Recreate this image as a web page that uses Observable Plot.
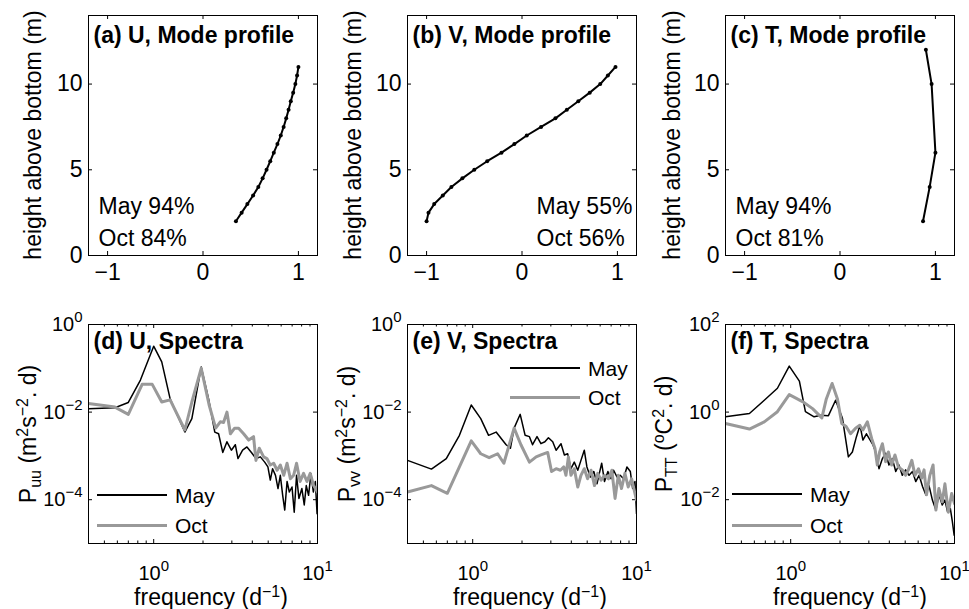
<!DOCTYPE html>
<html><head><meta charset="utf-8">
<script src="https://cdn.jsdelivr.net/npm/d3@7"></script>
<script src="https://cdn.jsdelivr.net/npm/@observablehq/plot@0.6"></script>
<style>
html,body{margin:0;padding:0;background:#fff;}
#chart{position:relative;width:969px;height:609px;overflow:hidden;font-family:"Liberation Sans",Arial,Helvetica,sans-serif;color:#000;background:#fff;}
.lbl{position:absolute;white-space:nowrap;line-height:1;font-size:23px;}
.sub{position:relative;top:0.32em;font-size:16px;}
.sup{position:relative;top:-0.5em;font-size:16px;}
</style></head><body><div id="chart"></div><script>
// ---------- data ----------
const profXTicks = [-1, 0, 1];
const profXLabels = ["−1", "0", "1"];
const profYTicks = [0, 5, 10];
const profYLabels = ["0", "5", "10"];

const specXTicks = [1, 10];
const specXLabels = ["10^0", "10^1"];
const specXMinor = [0.5, 0.6, 0.7, 0.8, 0.9, 2, 3, 4, 5, 6, 7, 8, 9];
const uvYTicks = [1e-4, 1e-2, 1];
const uvYLabels = ["10^−4", "10^−2", "10^0"];
const tYTicks = [1e-2, 1, 100];
const tYLabels = ["10^−2", "10^0", "10^2"];

const uHeight = [2, 2.5, 3, 3.5, 4, 4.5, 5, 5.5, 6, 6.5, 7, 7.5, 8, 8.5, 9, 9.5, 10, 10.5, 11];
const uMode = [0.345, 0.405, 0.465, 0.525, 0.58, 0.625, 0.666, 0.705, 0.742, 0.78, 0.815, 0.845, 0.872, 0.897, 0.92, 0.945, 0.968, 0.986, 1.0];
const vHeight = [2, 2.5, 3, 3.5, 4, 4.5, 5, 5.5, 6, 6.5, 7, 7.5, 8, 8.5, 9, 9.5, 10, 10.5, 11];
const vMode = [-1.0, -0.98, -0.92, -0.83, -0.74, -0.625, -0.5, -0.365, -0.215, -0.08, 0.05, 0.2, 0.35, 0.47, 0.59, 0.71, 0.82, 0.9, 0.98];
const tHeight = [2, 4, 6, 10, 12];
const tMode = [0.87, 0.94, 1.0, 0.96, 0.90];

const uFreqMay = [0.40,0.58,0.70,0.83,1.00,1.12,1.26,1.55,1.71,1.95,2.17,2.36,2.49,2.64,2.80,2.98,3.15,3.27,3.49,3.71,3.95,4.21,4.48,4.76,4.98,5.15,5.32,5.54,5.74,5.93,6.13,6.31,6.52,6.73,6.99,7.21,7.45,7.70,8.03,8.30,8.54,8.82,9.12,9.43,9.70,9.94];
const uPowMay = [1.2e-2,1.26e-2,1.66e-2,5.4e-2,3.2e-1,1.4e-1,2.0e-2,3.5e-3,7.1e-3,1.07e-1,1.9e-2,3.5e-3,3.2e-3,1.2e-3,2.1e-3,1.35e-3,1.8e-3,8.7e-4,1.35e-3,1.6e-3,1.2e-3,8.7e-4,9.5e-4,7.2e-4,5.6e-4,2.8e-4,5.1e-4,3.6e-4,1.8e-4,3.6e-4,1.26e-4,5.8e-5,2.6e-4,1.5e-4,1.95e-4,5.2e-5,3.6e-4,1.07e-4,1.8e-4,7.6e-5,2.1e-4,1.26e-4,3.9e-4,1.5e-4,2.6e-4,4.8e-5];
const uFreqOct = [0.40,0.58,0.70,0.85,0.98,1.12,1.26,1.55,1.71,1.95,2.18,2.39,2.55,2.67,2.80,2.94,3.12,3.30,3.54,3.80,4.07,4.21,4.41,4.69,4.91,5.15,5.40,5.67,5.93,6.22,6.52,6.83,7.15,7.45,7.83,8.22,8.62,9.03,9.47,10.0];
const uPowOct = [1.58e-2,1.3e-2,8.9e-3,4.3e-2,4.3e-2,1.7e-2,1.9e-2,3.9e-3,1.7e-2,1.0e-1,1.45e-2,4.3e-3,6.0e-3,5.8e-3,1.0e-2,3.2e-3,4.3e-3,4.3e-3,3.2e-3,2.3e-3,2.75e-3,7.9e-4,1.5e-3,9.5e-4,8.7e-4,6.2e-4,6.8e-4,4.7e-4,6.2e-4,3.6e-4,6.8e-4,3.0e-4,3.6e-4,6.8e-4,2.6e-4,4.0e-4,2.6e-4,4.0e-4,2.1e-4,1.5e-4];

const vFreqMay = [0.40,0.56,0.69,0.83,0.98,1.12,1.25,1.39,1.60,1.70,1.79,1.95,2.09,2.22,2.32,2.47,2.61,2.76,2.90,3.08,3.23,3.46,3.63,3.80,3.98,4.17,4.38,4.58,4.80,4.98,5.23,5.49,5.74,5.93,6.13,6.38,6.69,6.99,7.25,7.60,7.95,8.34,8.74,9.17,9.47,9.79,10.0];
const vPowMay = [7.9e-4,5.0e-4,8.7e-4,2.95e-3,1.45e-2,7.1e-3,2.95e-3,3.5e-3,1.8e-3,1.5e-3,4.3e-3,8.9e-3,2.95e-3,2.75e-3,1.8e-3,2.75e-3,1.9e-3,2.1e-3,2.6e-3,2.1e-3,1.35e-3,1.9e-3,1.05e-3,1.12e-3,5.1e-4,7.2e-4,4.7e-4,7.9e-4,1.35e-3,5.6e-4,3.3e-4,4.4e-4,2.3e-4,4.0e-4,6.8e-4,2.6e-4,4.4e-4,3.0e-4,4.7e-4,3.3e-4,3.6e-4,3.0e-4,5.6e-4,4.4e-4,1.8e-4,2.6e-4,4.8e-5];
const vFreqOct = [0.40,0.56,0.70,0.98,1.12,1.26,1.42,1.55,1.79,1.97,2.22,2.44,2.61,2.87,3.03,3.23,3.43,3.60,3.71,3.84,3.98,4.17,4.38,4.58,4.80,5.03,5.28,5.54,5.80,6.08,6.38,6.75,7.07,7.40,7.74,8.10,8.50,8.90,9.34,10.0];
const vPowOct = [1.5e-4,2.1e-4,1.4e-4,2.2e-3,1.12e-3,9.1e-4,1.12e-3,6.8e-4,4.3e-3,1.8e-3,7.2e-4,9.5e-4,1.05e-3,1.2e-3,4.4e-4,5.1e-4,4.7e-4,5.6e-4,3.6e-4,9.5e-4,3.6e-4,5.1e-4,1.95e-4,3.6e-4,5.1e-4,3.0e-4,4.7e-4,2.1e-4,4.0e-4,2.8e-4,3.6e-4,3.0e-4,4.7e-4,1.07e-4,3.6e-4,1.8e-4,4.0e-4,1.95e-4,3.0e-4,9.8e-5];

const tFreqMay = [0.40,0.56,0.69,0.83,0.98,1.13,1.23,1.39,1.53,1.70,1.88,2.07,2.25,2.38,2.52,2.65,2.76,2.90,3.01,3.18,3.30,3.46,3.63,3.80,3.98,4.17,4.38,4.58,4.80,5.03,5.28,5.54,5.80,6.08,6.38,6.69,6.99,7.33,7.70,8.03,8.42,8.74,9.08,9.43,9.70,9.95];
const tPowMay = [0.78,0.93,1.86,3.5,11.2,5.1,1.02,0.78,0.85,0.83,1.86,0.72,0.095,0.123,0.275,0.50,0.23,0.32,0.25,0.178,0.123,0.051,0.087,0.115,0.062,0.087,0.044,0.062,0.036,0.048,0.036,0.044,0.026,0.036,0.020,0.0129,0.021,0.0098,0.0058,0.0129,0.0076,0.0098,0.0052,0.0063,0.0032,0.00155];
const tFreqOct = [0.40,0.56,0.69,0.83,0.98,1.18,1.36,1.55,1.65,1.79,1.93,2.05,2.18,2.32,2.49,2.64,2.76,2.94,3.12,3.27,3.38,3.49,3.63,3.80,3.95,4.13,4.33,4.54,4.80,5.03,5.23,5.49,5.74,6.03,6.31,6.52,6.75,7.07,7.40,7.70,8.03,8.42,8.74,9.17,9.61,10.0];
const tPowOct = [0.55,0.41,0.60,1.02,2.5,1.74,1.2,0.74,2.0,4.5,2.0,0.55,0.47,0.32,0.43,0.50,0.39,0.60,0.25,0.148,0.062,0.123,0.19,0.074,0.123,0.062,0.105,0.056,0.048,0.036,0.048,0.079,0.036,0.051,0.031,0.048,0.0129,0.036,0.062,0.0058,0.018,0.0089,0.023,0.0052,0.0138,0.0081];

const seriesNames = ["May", "Oct"];
const seriesColors = ["#000000", "#999999"];
const seriesWidths = [1.5, 3];

// ---------- layout ----------
const FONT = '"Liberation Sans", Arial, Helvetica, sans-serif';
const chart = document.getElementById("chart");
const cols = [
  {left: 0, width: 320, ml: 88, mr: 3},
  {left: 320, width: 320, ml: 87, mr: 4},
  {left: 640, width: 329, ml: 85, mr: 15}
];
const MAJ = 4, MIN = 2.5;

function place(svg, left, top) {
  svg.style.position = "absolute";
  svg.style.left = left + "px";
  svg.style.top = top + "px";
  chart.appendChild(svg);
}
function lookup(ticks, labels) { return d => labels[ticks.indexOf(d)]; }

function innerTicks(xs, ys, iw, ih, len) {
  const m = [];
  if (xs) {
    m.push(Plot.tickX(xs, {x: d => d, insetTop: ih - len, stroke: "black"}));
    m.push(Plot.tickX(xs, {x: d => d, insetBottom: ih - len, stroke: "black"}));
  }
  if (ys) {
    m.push(Plot.tickY(ys, {y: d => d, insetRight: iw - len, stroke: "black"}));
    m.push(Plot.tickY(ys, {y: d => d, insetLeft: iw - len, stroke: "black"}));
  }
  return m;
}

function profilePanel(col, heights, values, title, ann, annAnchor, annDx) {
  const H = 290, mt = 15, mb = 35;
  const iw = col.width - col.ml - col.mr, ih = H - mt - mb;
  const data = heights.map((h, i) => ({h, v: values[i]}));
  const svg = Plot.plot({
    width: col.width, height: H,
    marginLeft: col.ml, marginRight: col.mr, marginTop: mt, marginBottom: mb,
    style: {fontFamily: FONT, fontSize: "23px", background: "transparent", color: "black", overflow: "visible"},
    x: {domain: [-1.2, 1.2], label: null},
    y: {domain: [0, 14], label: null},
    marks: [
      ...innerTicks(profXTicks, profYTicks, iw, ih, MAJ),
      Plot.axisX(profXTicks, {tickSize: 0, tickPadding: 8, label: null, fontSize: 23, tickFormat: lookup(profXTicks, profXLabels)}),
      Plot.axisY(profYTicks, {tickSize: 0, tickPadding: 6, label: null, fontSize: 23, tickFormat: lookup(profYTicks, profYLabels)}),
      Plot.line(data, {x: "v", y: "h", stroke: "black", strokeWidth: 2}),
      Plot.dot(data, {x: "v", y: "h", r: 2, fill: "black"}),
      Plot.text([title], {frameAnchor: "top-left", textAnchor: "start", lineAnchor: "top", dx: 5, dy: 11, fontWeight: "bold", fontSize: 23}),
      Plot.text([ann[0]], {frameAnchor: annAnchor, textAnchor: "start", lineAnchor: "bottom", dx: annDx, dy: -42, fontSize: 23}),
      Plot.text([ann[1]], {frameAnchor: annAnchor, textAnchor: "start", lineAnchor: "bottom", dx: annDx, dy: -10, fontSize: 23}),
      Plot.frame({stroke: "black"})
    ]
  });
  place(svg, col.left, 0);
}

function supify(svg) {
  svg.querySelectorAll('g[aria-label$="tick label"] text').forEach(el => {
    const t = el.textContent, i = t.indexOf("^");
    if (i < 0) return;
    const s = d3.select(el);
    s.text(null);
    s.append("tspan").text(t.slice(0, i));
    s.append("tspan").attr("dy", -9).attr("font-size", 15).text(t.slice(i + 1));
  });
}

function specPanel(col, yDomain, yTicks, yLabels, may, oct, title) {
  const H = 319, mt = 34, mb = 66;
  const iw = col.width - col.ml - col.mr, ih = H - mt - mb;
  const mayData = may[0].map((f, i) => ({f, p: may[1][i]}));
  const octData = oct[0].map((f, i) => ({f, p: oct[1][i]}));
  const svg = Plot.plot({
    width: col.width, height: H,
    marginLeft: col.ml, marginRight: col.mr, marginTop: mt, marginBottom: mb,
    style: {fontFamily: FONT, fontSize: "20px", background: "transparent", color: "black", overflow: "visible"},
    x: {type: "log", domain: [0.4, 10], label: null},
    y: {type: "log", domain: yDomain, label: null},
    marks: [
      ...innerTicks(specXTicks, yTicks, iw, ih, MAJ),
      ...innerTicks(specXMinor, null, iw, ih, MIN),
      Plot.axisX(specXTicks, {tickSize: 0, tickPadding: 22, label: null, fontSize: 20, tickFormat: lookup(specXTicks, specXLabels)}),
      Plot.axisY(yTicks, {tickSize: 0, tickPadding: 6, label: null, fontSize: 20, tickFormat: lookup(yTicks, yLabels)}),
      Plot.line(mayData, {x: "f", y: "p", stroke: seriesColors[0], strokeWidth: seriesWidths[0], clip: true}),
      Plot.line(octData, {x: "f", y: "p", stroke: seriesColors[1], strokeWidth: seriesWidths[1], clip: true}),
      Plot.text([title], {frameAnchor: "top-left", textAnchor: "start", lineAnchor: "top", dx: 5, dy: 8, fontWeight: "bold", fontSize: 23}),
      Plot.frame({stroke: "black"})
    ]
  });
  supify(svg);
  place(svg, col.left, 290);
}

function addLabel(html, cx, cy, rotate) {
  const d = document.createElement("div");
  d.className = "lbl";
  d.innerHTML = html;
  d.style.left = cx + "px";
  d.style.top = cy + "px";
  d.style.transform = rotate ? "translate(-50%,-50%) rotate(-90deg)" : "translate(-50%,-50%)";
  chart.appendChild(d);
}

function addLegend(x0, yRows) {
  seriesNames.forEach((name, i) => {
    const y = yRows[i], w = seriesWidths[i];
    const line = document.createElement("div");
    line.style.cssText = `position:absolute;left:${x0}px;top:${y - w / 2}px;width:70px;height:${w}px;background:${seriesColors[i]}`;
    chart.appendChild(line);
    const t = document.createElement("div");
    t.className = "lbl";
    t.style.fontSize = "21px";
    t.style.left = (x0 + 78) + "px";
    t.style.top = (y + 8 - 17.8) + "px";
    t.textContent = name;
    chart.appendChild(t);
  });
}

// ---------- panels ----------
profilePanel(cols[0], uHeight, uMode, "(a) U, Mode profile", ["May 94%", "Oct 84%"], "bottom-left", 10);
profilePanel(cols[1], vHeight, vMode, "(b) V, Mode profile", ["May 55%", "Oct 56%"], "bottom-right", -100);
profilePanel(cols[2], tHeight, tMode, "(c) T, Mode profile", ["May 94%", "Oct 81%"], "bottom-left", 10);

specPanel(cols[0], [1e-5, 1], uvYTicks, uvYLabels, [uFreqMay, uPowMay], [uFreqOct, uPowOct], "(d) U, Spectra");
specPanel(cols[1], [1e-5, 1], uvYTicks, uvYLabels, [vFreqMay, vPowMay], [vFreqOct, vPowOct], "(e) V, Spectra");
specPanel(cols[2], [1e-3, 100], tYTicks, tYLabels, [tFreqMay, tPowMay], [tFreqOct, tPowOct], "(f) T, Spectra");

// axis labels
[33, 352.5, 671.5].forEach(cx => addLabel("height above bottom (m)", cx, 135, true));
addLabel('P<span class="sub">uu</span> (m<span class="sup">2</span>s<span class="sup">−2</span>. d)', 27.5, 433.5, true);
addLabel('P<span class="sub">vv</span> (m<span class="sup">2</span>s<span class="sup">−2</span>. d)', 347, 433.5, true);
addLabel('P<span class="sub">TT</span> (<span class="sup">o</span>C<span class="sup">2</span>. d)', 663.5, 433.5, true);
[211, 530, 850].forEach(cx => addLabel('frequency (d<span class="sup">−1</span>)', cx, 596.5, false));

// legends
addLegend(97, [495, 525]);
addLegend(510, [368, 397]);
addLegend(732, [494, 525]);
</script></body></html>
